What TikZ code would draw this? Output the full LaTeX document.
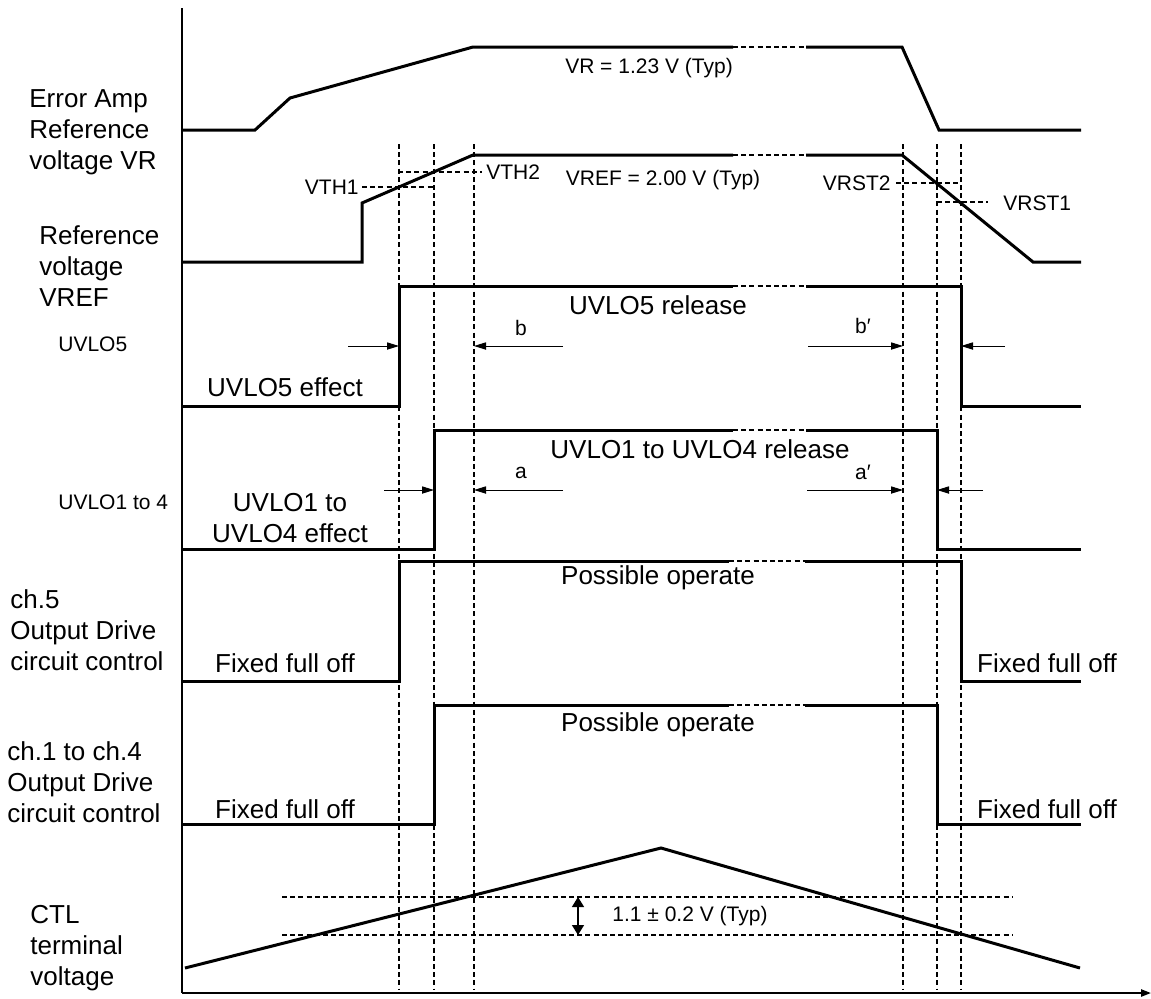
\documentclass[tikz,border=0pt]{standalone}
\usepackage{fontspec}
\setmainfont{Liberation Sans}
\usetikzlibrary{arrows.meta}
\begin{document}
\begin{tikzpicture}[x=0.5pt, y=-0.5pt,
  wave/.style={line width=1.5pt},
  gap/.style={line width=0.6pt, dash pattern=on 2.5pt off 1.6pt},
  guide/.style={line width=0.6pt, dash pattern=on 2.5pt off 1.6pt},
  dim/.style={line width=0.5pt, -{Triangle[length=6pt,width=3.6pt]}},
  big/.style={font=\fontsize{13}{15.5}\selectfont, inner sep=0pt},
  small/.style={font=\fontsize{10.5}{12.5}\selectfont, inner sep=0pt}]
  \useasboundingbox (0,0) rectangle (1151,998);
  \draw[line width=0.9pt] (182,8) -- (182,993);
  \draw[line width=0.9pt, -{Triangle[length=5pt,width=3.6pt]}] (182,993) -- (1151,993);
  \foreach \x in {399,434,474,903,937,961}
    \draw[guide] (\x,144) -- (\x,990);
  % VR
  \draw[wave] (182,130) -- (255,130) -- (290,98) -- (473,47) -- (733,47);
  \draw[gap] (733,47) -- (806,47);
  \draw[wave] (806,47) -- (902,47) -- (939,130) -- (1081,130);
  % VREF
  \draw[wave] (182,262) -- (362,262) -- (362,203) -- (473,155) -- (733,155);
  \draw[gap] (733,155) -- (806,155);
  \draw[wave] (806,155) -- (902,155) -- (1033,262) -- (1081,262);
  \draw[guide] (362,187) -- (433,187);
  \draw[guide] (398,172) -- (482,172);
  \draw[guide] (896,183) -- (961,183);
  \draw[guide] (937,202) -- (988,202);
  % UVLO5
  \draw[wave] (182,406) -- (399,406) -- (399,286) -- (733,286);
  \draw[gap] (733,286) -- (806,286);
  \draw[wave] (806,286) -- (961,286) -- (961,406) -- (1081,406);
  \draw[dim] (348,346) -- (399,346);
  \draw[dim] (563,346) -- (474,346);
  \draw[dim] (808,346) -- (903,346);
  \draw[dim] (1005,346) -- (961,346);
  % UVLO1 to 4
  \draw[wave] (182,549) -- (434,549) -- (434,430) -- (733,430);
  \draw[gap] (733,430) -- (806,430);
  \draw[wave] (806,430) -- (937,430) -- (937,549) -- (1081,549);
  \draw[dim] (384,490) -- (434,490);
  \draw[dim] (563,490) -- (474,490);
  \draw[dim] (807,490) -- (903,490);
  \draw[dim] (983,490) -- (937,490);
  % ch.5
  \draw[wave] (182,681) -- (399,681) -- (399,561) -- (729,561);
  \draw[gap] (729,561) -- (805,561);
  \draw[wave] (805,561) -- (961,561) -- (961,681) -- (1081,681);
  % ch.1 to ch.4
  \draw[wave] (182,824) -- (434,824) -- (434,705) -- (729,705);
  \draw[gap] (729,705) -- (805,705);
  \draw[wave] (805,705) -- (937,705) -- (937,824) -- (1081,824);
  % CTL
  \draw[wave] (185,968) -- (661,848) -- (1080,968);
  \draw[guide] (282,897) -- (1013,897);
  \draw[guide] (282,935) -- (1013,935);
  \draw[line width=0.7pt, {Triangle[length=5pt,width=6pt]}-{Triangle[length=5pt,width=6pt]}] (578,897) -- (578,935);

  \node[big, anchor=west, align=left] (lblVR) at (29,132) {Error Amp\\Reference\\voltage VR};
  \node[big, anchor=west, align=left] (lblVREF) at (39,266) {Reference\\voltage\\VREF};
  \node[small, anchor=west] (lblU5) at (58,344) {UVLO5};
  \node[small, anchor=west] (lblU14) at (58,502) {UVLO1 to 4};
  \node[big, anchor=west, align=left] (lblCh5) at (10,630) {ch.5\\Output Drive\\circuit control};
  \node[big, anchor=west, align=left] (lblCh14) at (7,782) {ch.1 to ch.4\\Output Drive\\circuit control};
  \node[big, anchor=west, align=left] (lblCTL) at (30,948) {CTL\\terminal\\voltage};

  \node[small] (vrTyp) at (649,68) {VR = 1.23 V (Typ)};
  \node[small] (vrefTyp) at (663,180) {VREF = 2.00 V (Typ)};
  \node[small, anchor=east] (vth1) at (359,187) {VTH1};
  \node[small, anchor=west] (vth2) at (486,172) {VTH2};
  \node[small, anchor=east] (vrst2) at (891,183) {VRST2};
  \node[small, anchor=west] (vrst1) at (1003,203) {VRST1};

  \node[big] (u5eff) at (285,387) {UVLO5 effect};
  \node[big] (u5rel) at (658,305) {UVLO5 release};
  \node[small] (dimB) at (521,328) {b};
  \node[small] (dimBp) at (863,326) {b′};
  \node[big, align=center] (u14eff) at (290,518) {UVLO1 to\\UVLO4 effect};
  \node[big] (u14rel) at (700,449) {UVLO1 to UVLO4 release};
  \node[small] (dimA) at (521,473) {a};
  \node[small] (dimAp) at (863,472) {a′};

  \node[big] (op5) at (658,578) {Possible operate};
  \node[big] (off5l) at (285,663) {Fixed full off};
  \node[big] (off5r) at (1047,663) {Fixed full off};
  \node[big] (op14) at (658,725) {Possible operate};
  \node[big] (off14l) at (285,809) {Fixed full off};
  \node[big] (off14r) at (1047,809) {Fixed full off};
  \node[small, anchor=west] (ctlTyp) at (612,916) {1.1 ± 0.2 V (Typ)};
\end{tikzpicture}
\end{document}
